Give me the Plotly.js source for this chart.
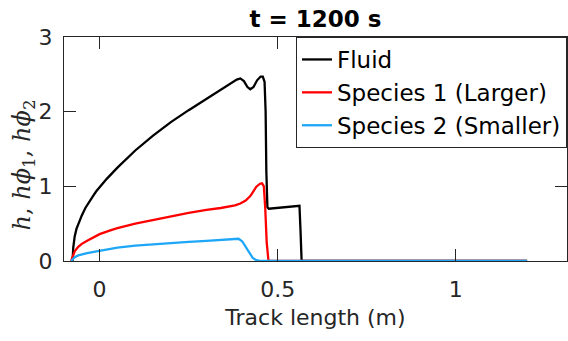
<!DOCTYPE html>
<html>
<head>
<meta charset="utf-8">
<script src="https://cdn.plot.ly/plotly-3.0.1.min.js"></script>
<style>html,body{margin:0;padding:0;background:#fff;}#chart{width:568px;height:341px;}</style>
</head>
<body>
<div id="chart"></div>
<script>
// Fluid depth h
var fluidX = [-0.08, -0.076, -0.074, -0.07, -0.065, -0.06, -0.05, -0.04, -0.03, -0.02, -0.01, 0, 0.02, 0.05, 0.1, 0.15, 0.2, 0.25, 0.3, 0.34, 0.37, 0.385, 0.395, 0.405, 0.415, 0.423, 0.432, 0.442, 0.452, 0.458, 0.463, 0.466, 0.468, 0.471, 0.475, 0.5, 0.52, 0.55, 0.561, 0.564, 0.567, 0.6, 0.8, 1.0, 1.2];
var fluidY = [0, 0, 0.18, 0.33, 0.43, 0.50, 0.61, 0.71, 0.79, 0.86, 0.93, 0.99, 1.10, 1.25, 1.48, 1.68, 1.86, 2.02, 2.17, 2.29, 2.38, 2.43, 2.445, 2.41, 2.33, 2.30, 2.33, 2.42, 2.47, 2.47, 2.40, 2.0, 1.2, 0.72, 0.70, 0.71, 0.72, 0.735, 0.74, 0.4, 0, 0, 0, 0, 0];
// Species 1 (Larger): h*phi1
var sp1X = [-0.08, -0.075, -0.07, -0.06, -0.05, -0.035, -0.02, 0, 0.03, 0.05, 0.1, 0.15, 0.2, 0.25, 0.3, 0.34, 0.38, 0.395, 0.41, 0.423, 0.44, 0.45, 0.456, 0.461, 0.465, 0.469, 0.474, 0.5, 0.8, 1.0, 1.2];
var sp1Y = [0, 0.07, 0.13, 0.19, 0.23, 0.27, 0.31, 0.36, 0.41, 0.44, 0.50, 0.55, 0.60, 0.645, 0.685, 0.71, 0.745, 0.77, 0.81, 0.87, 0.995, 1.035, 1.04, 1.0, 0.7, 0.25, 0, 0, 0, 0, 0];
// Species 2 (Smaller): h*phi2
var sp2X = [-0.08, -0.075, -0.07, -0.06, -0.05, -0.035, -0.02, 0, 0.03, 0.05, 0.1, 0.15, 0.2, 0.25, 0.3, 0.34, 0.38, 0.39, 0.40, 0.41, 0.414, 0.42, 0.43, 0.44, 0.45, 0.6, 0.8, 1.0, 1.2];
var sp2Y = [0, 0.02, 0.05, 0.075, 0.09, 0.105, 0.12, 0.14, 0.165, 0.18, 0.205, 0.225, 0.24, 0.255, 0.27, 0.28, 0.295, 0.298, 0.265, 0.19, 0.15, 0.10, 0.04, 0.01, 0, 0, 0, 0, 0];

var seriesNames = ['Fluid', 'Species 1 (Larger)', 'Species 2 (Smaller)'];
var seriesColors = ['#000000', '#ff0000', '#1ea7f7'];
var xTicks = [0, 0.5, 1];
var xTickText = ['0', '0.5', '1'];
var yTicks = [0, 1, 2, 3];
var yTickText = ['0', '1', '2', '3'];

var xs = [fluidX, sp1X, sp2X];
var ys = [fluidY, sp1Y, sp2Y];
var traces = [];
for (var i = 0; i < 3; i++) {
  traces.push({
    x: xs[i], y: ys[i], type: 'scatter', mode: 'lines',
    name: seriesNames[i],
    line: {color: seriesColors[i], width: 2.3}
  });
}

var axisColor = '#262626';
var sans = 'DejaVu Sans, Liberation Sans, Arial, sans-serif';
var layout = {
  width: 568, height: 341,
  margin: {l: 64, r: 1, t: 37, b: 80},
  paper_bgcolor: '#ffffff', plot_bgcolor: '#ffffff',
  font: {family: sans, color: axisColor},
  title: {text: '<b>t = 1200 s</b>', font: {family: sans, size: 23, color: '#000000'},
          x: 0.5, xref: 'paper', xanchor: 'center', y: 1, yref: 'paper', yanchor: 'bottom', pad: {b: 10}},
  showlegend: true,
  legend: {x: 1, xanchor: 'right', y: 1, yanchor: 'top', bgcolor: '#ffffff', bordercolor: axisColor, borderwidth: 1,
           font: {family: sans, size: 23, color: '#000000'}, tracegroupgap: 0, itemwidth: 30},
  xaxis: {
    range: [-0.1, 1.312], tickvals: xTicks, ticktext: xTickText,
    ticks: 'inside', ticklen: 12, tickcolor: axisColor, tickwidth: 1,
    showline: true, linecolor: axisColor, linewidth: 1, mirror: 'ticks',
    showgrid: false, zeroline: false,
    tickfont: {family: sans, size: 22, color: axisColor}, ticklabelstandoff: 9,
    title: {text: 'Track length (m)', font: {family: sans, size: 22, color: axisColor}, standoff: 8}
  },
  yaxis: {
    range: [0, 3], tickvals: yTicks, ticktext: yTickText,
    ticks: 'inside', ticklen: 12, tickcolor: axisColor, tickwidth: 1,
    showline: true, linecolor: axisColor, linewidth: 1, mirror: 'ticks',
    showgrid: false, zeroline: false,
    tickfont: {family: sans, size: 22, color: axisColor}, ticklabelstandoff: 6
  },
  annotations: [{
    text: '<i>h</i>, <i>hϕ</i><sub>1</sub>, <i>hϕ</i><sub>2</sub>',
    xref: 'paper', yref: 'paper', x: -0.08, y: 0.43, xanchor: 'center', yanchor: 'middle',
    textangle: -90, showarrow: false,
    font: {family: 'DejaVu Serif, Liberation Serif, serif', size: 24, color: axisColor}
  }]
};

Plotly.newPlot('chart', traces, layout, {staticPlot: true, displayModeBar: false});
</script>
</body>
</html>
